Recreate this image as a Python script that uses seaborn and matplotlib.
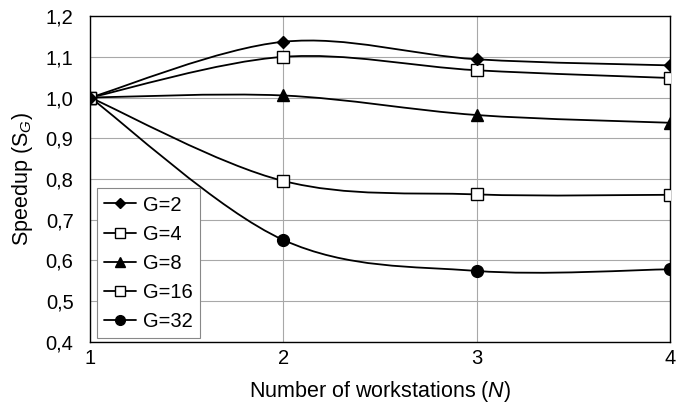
import numpy as np
import pandas as pd
import seaborn as sns
import matplotlib.pyplot as plt
from matplotlib.path import Path
from matplotlib.patches import PathPatch
from matplotlib.lines import Line2D

workstations = [1, 2, 3, 4]
g2 = [1.0, 1.137, 1.094, 1.079]
g4 = [1.0, 1.100, 1.067, 1.048]
g8 = [1.0, 1.005, 0.957, 0.938]
g16 = [1.0, 0.795, 0.762, 0.761]
g32 = [1.0, 0.650, 0.574, 0.578]
labels = ["G=2", "G=4", "G=8", "G=16", "G=32"]
yticks = [0.4, 0.5, 0.6, 0.7, 0.8, 0.9, 1.0, 1.1, 1.2]

series = [g2, g4, g8, g16, g32]
df = pd.DataFrame({
    "N": workstations * len(series),
    "S": [v for s in series for v in s],
    "G": [lab for lab in labels for _ in workstations],
})

# marker style per series (plot size, legend size)
styles = {
    "G=2": dict(marker="D", ms=6, lms=5, mfc="black"),
    "G=4": dict(marker="s", ms=8, lms=6.5, mfc="white"),
    "G=8": dict(marker="^", ms=8, lms=7, mfc="black"),
    "G=16": dict(marker="s", ms=8, lms=6.5, mfc="white"),
    "G=32": dict(marker="o", ms=8.5, lms=7, mfc="black"),
}

sns.set_style("white", {"text.color": "black", "axes.labelcolor": "black",
                        "xtick.color": "black", "ytick.color": "black"})
plt.rcParams["font.family"] = ["Liberation Sans", "DejaVu Sans"]
plt.rcParams["mathtext.fontset"] = "custom"
plt.rcParams["mathtext.rm"] = "Liberation Sans"
plt.rcParams["mathtext.it"] = "Liberation Sans:italic"


def smooth_path(xs, ys):
    # Excel-like smoothed line: cubic Bezier segments with Catmull-Rom control points
    pts = np.column_stack([xs, ys]).astype(float)
    n = len(pts)
    verts = [pts[0]]
    codes = [Path.MOVETO]
    for i in range(n - 1):
        p0 = pts[max(i - 1, 0)]
        p1 = pts[i]
        p2 = pts[i + 1]
        p3 = pts[min(i + 2, n - 1)]
        c1 = p1 + (p2 - p0) / 6.0
        c2 = p2 - (p3 - p1) / 6.0
        verts += [c1, c2, p2]
        codes += [Path.CURVE4] * 3
    return Path(verts, codes)


fig = plt.figure(figsize=(6.78, 4.03), dpi=100)
ax = fig.add_axes([0.133, 0.152, 0.855, 0.808])

for lab in labels:
    sub = df[df["G"] == lab]
    ax.add_patch(PathPatch(smooth_path(sub["N"], sub["S"]), facecolor="none",
                           edgecolor="black", lw=1.3, zorder=3))

for lab in labels[::-1]:
    st = styles[lab]
    sns.lineplot(data=df[df["G"] == lab], x="N", y="S", ax=ax, linestyle="none",
                 marker=st["marker"], markersize=st["ms"], markerfacecolor=st["mfc"],
                 markeredgecolor="black", markeredgewidth=1, color="black",
                 zorder=4, legend=False)

ax.set_xlim(1, 4)
ax.set_ylim(0.4, 1.2)
ax.set_xticks(workstations)
ax.set_yticks(yticks)
ax.set_yticklabels([f"{v:.1f}".replace(".", ",") for v in yticks])
ax.tick_params(length=0, labelsize=14.5, labelcolor="black")
ax.tick_params(axis="y", pad=12)
ax.tick_params(axis="x", pad=5)
ax.grid(True, color="#a8a8a8", lw=0.8)
for sp in ax.spines.values():
    sp.set_color("black")
    sp.set_linewidth(1)

ax.set_xlabel("Number of workstations ($N$)", fontsize=15.5, labelpad=8, color="black")
ax.set_ylabel("Speedup (S$_G$)", fontsize=15.5, labelpad=8, color="black")

handles = [Line2D([], [], color="black", lw=1.3, marker=styles[l]["marker"],
                  markersize=styles[l]["lms"], markerfacecolor=styles[l]["mfc"],
                  markeredgecolor="black") for l in labels]
leg = ax.legend(handles, labels, loc="lower left", bbox_to_anchor=(0.012, 0.012),
                fontsize=14.5, handlelength=1.6, handletextpad=0.35, labelspacing=0.5,
                borderpad=0.35, borderaxespad=0.0, fancybox=False, framealpha=1,
                edgecolor="#888888", labelcolor="black")
leg.get_frame().set_linewidth(0.8)

fig.savefig("out.png", dpi=100)
